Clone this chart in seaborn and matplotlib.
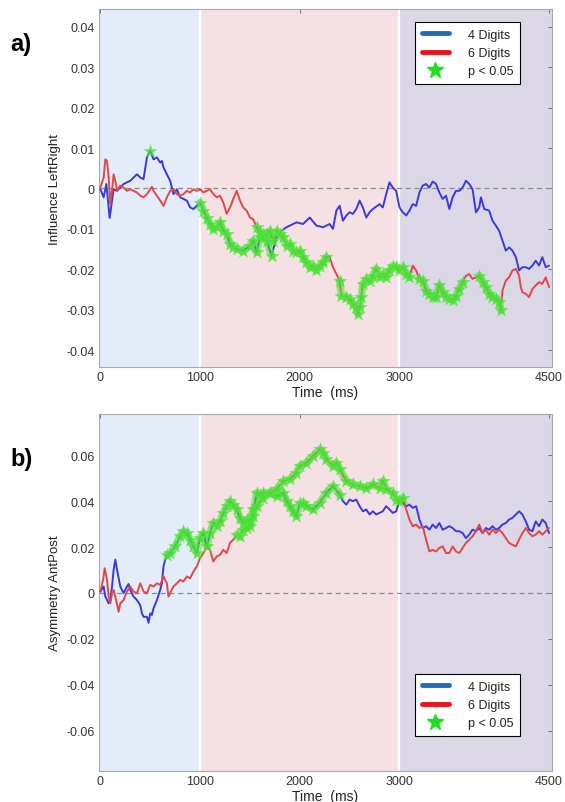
import numpy as np
import pandas as pd
import matplotlib
matplotlib.use("Agg")
import matplotlib.pyplot as plt
import seaborn as sns
from matplotlib.lines import Line2D

# ---------------- data ----------------
a_blue_t = [0, 33, 60, 93, 133, 167, 233, 300, 367, 400, 433, 467, 500, 533, 567, 600, 617, 633, 667, 700,
            733, 767, 800, 833, 867, 900, 933, 967, 1000, 1033, 1067, 1100, 1133, 1167, 1200, 1233, 1267, 1300,
            1333, 1367, 1433, 1500, 1533, 1567, 1600, 1633, 1667, 1717, 1767, 1817, 1867, 1900, 1967, 2033,
            2100, 2167, 2233, 2300, 2333, 2367, 2400, 2433, 2467, 2500, 2533, 2567, 2600, 2633, 2667, 2700,
            2733, 2800, 2833, 2867, 2900, 2933, 2967, 3000, 3033, 3067, 3100, 3133, 3167, 3200, 3233, 3267,
            3300, 3333, 3367, 3400, 3433, 3467, 3500, 3533, 3567, 3600, 3633, 3667, 3700, 3733, 3767, 3800,
            3817, 3850, 3900, 3933, 3967, 4000, 4033, 4067, 4100, 4133, 4167, 4200, 4233, 4267, 4300, 4333,
            4367, 4400, 4433, 4467, 4500]
a_blue_v = [-0.0002, -0.0022, 0.0011, -0.0073, -0.0002, -0.0006, 0.0011, 0.0019, 0.0035, 0.0027, 0.0023,
            0.0077, 0.0093, 0.0072, 0.0077, 0.0064, 0.0068, 0.0052, 0.0035, 0.0019, -0.0014, -0.0002, -0.0022,
            -0.0026, -0.0030, -0.0047, -0.0051, -0.0043, -0.0035, -0.0055, -0.0072, -0.0088, -0.0100, -0.0096,
            -0.0084, -0.0105, -0.0113, -0.0137, -0.0146, -0.0150, -0.0154, -0.0142, -0.0129, -0.0158, -0.0121,
            -0.0113, -0.0129, -0.0166, -0.0121, -0.0105, -0.0096, -0.0092, -0.0084, -0.0088, -0.0072, -0.0092,
            -0.0096, -0.0088, -0.0100, -0.0055, -0.0043, -0.0080, -0.0067, -0.0059, -0.0063, -0.0051, -0.0030,
            -0.0047, -0.0072, -0.0059, -0.0051, -0.0039, -0.0047, -0.0014, 0.0015, 0.0002, -0.0006, -0.0047,
            -0.0059, -0.0067, -0.0055, -0.0039, -0.0043, -0.0010, 0.0007, 0.0011, 0.0002, 0.0017, 0.0011,
            -0.0010, -0.0026, -0.0018, -0.0051, -0.0022, -0.0006, -0.0006, 0.0002, 0.0019, 0.0011, -0.0002,
            -0.0059, -0.0047, -0.0022, -0.0051, -0.0055, -0.0080, -0.0092, -0.0105, -0.0129, -0.0154, -0.0146,
            -0.0154, -0.0170, -0.0203, -0.0195, -0.0195, -0.0199, -0.0191, -0.0179, -0.0191, -0.0170, -0.0195,
            -0.0191]

a_red_t = [0, 33, 50, 67, 83, 100, 117, 133, 150, 167, 200, 233, 267, 300, 367, 400, 433, 467, 517, 533, 567,
           600, 633, 667, 700, 733, 767, 800, 833, 867, 900, 933, 967, 1000, 1033, 1067, 1100, 1133, 1167, 1200,
           1233, 1267, 1300, 1333, 1367, 1400, 1433, 1467, 1500, 1533, 1567, 1600, 1633, 1667, 1700, 1733,
           1767, 1800, 1833, 1867, 1900, 1933, 1967, 2000, 2033, 2067, 2100, 2133, 2167, 2200, 2233, 2267,
           2300, 2333, 2367, 2400, 2417, 2467, 2500, 2533, 2567, 2583, 2600, 2617, 2633, 2667, 2700, 2733,
           2767, 2800, 2833, 2867, 2900, 2933, 2967, 3000, 3033, 3067, 3100, 3133, 3167, 3200, 3233, 3267,
           3300, 3333, 3367, 3400, 3433, 3467, 3500, 3533, 3567, 3600, 3633, 3667, 3700, 3733, 3767, 3800,
           3833, 3867, 3900, 3933, 3967, 4000, 4017, 4033, 4067, 4100, 4133, 4167, 4200, 4217, 4233, 4267,
           4300, 4333, 4367, 4400, 4433, 4467, 4500]
a_red_v = [0.0002, 0.0027, 0.0072, 0.0068, 0.0027, -0.0039, -0.0006, 0.0035, 0.0019, -0.0006, 0.0007, 0.0002,
           -0.0006, -0.0002, -0.0010, -0.0018, -0.0022, -0.0014, 0.0004, -0.0006, -0.0018, -0.0030, -0.0043,
           -0.0022, -0.0006, -0.0002, -0.0014, -0.0018, -0.0014, -0.0006, -0.0010, -0.0002, -0.0006, -0.0002,
           -0.0010, -0.0006, -0.0002, -0.0014, -0.0022, -0.0018, -0.0035, -0.0063, -0.0047, -0.0026, -0.0006,
           -0.0030, -0.0047, -0.0055, -0.0072, -0.0076, -0.0096, -0.0109, -0.0121, -0.0113, -0.0105, -0.0129,
           -0.0105, -0.0113, -0.0121, -0.0142, -0.0137, -0.0154, -0.0158, -0.0154, -0.0170, -0.0183, -0.0195,
           -0.0191, -0.0203, -0.0191, -0.0183, -0.0170, -0.0170, -0.0195, -0.0212, -0.0228, -0.0265, -0.0269,
           -0.0273, -0.0286, -0.0294, -0.0310, -0.0294, -0.0269, -0.0236, -0.0224, -0.0228, -0.0216, -0.0199,
           -0.0220, -0.0212, -0.0220, -0.0203, -0.0191, -0.0195, -0.0203, -0.0195, -0.0212, -0.0220, -0.0191,
           -0.0203, -0.0224, -0.0228, -0.0253, -0.0261, -0.0269, -0.0269, -0.0240, -0.0257, -0.0269, -0.0273,
           -0.0277, -0.0265, -0.0249, -0.0232, -0.0216, -0.0212, -0.0224, -0.0220, -0.0216, -0.0232, -0.0244,
           -0.0261, -0.0269, -0.0273, -0.0281, -0.0302, -0.0253, -0.0228, -0.0220, -0.0203, -0.0199, -0.0216,
           -0.0244, -0.0257, -0.0261, -0.0269, -0.0249, -0.0240, -0.0232, -0.0236, -0.0220, -0.0244]

b_blue_t = [0, 33, 50, 83, 100, 117, 133, 150, 167, 200, 233, 267, 283, 300, 333, 367, 400, 417, 433, 467, 483,
            500, 517, 533, 567, 600, 617, 633, 650, 667, 700, 750, 800, 833, 867, 900, 933, 967, 1000, 1033,
            1067, 1100, 1133, 1167, 1200, 1233, 1267, 1300, 1333, 1367, 1400, 1433, 1467, 1500, 1533, 1567,
            1600, 1633, 1700, 1767, 1833, 1867, 1900, 1933, 1967, 2000, 2033, 2067, 2133, 2200, 2267, 2333,
            2400, 2433, 2467, 2500, 2533, 2567, 2600, 2633, 2667, 2700, 2733, 2767, 2800, 2833, 2867, 2900,
            2933, 2967, 3000, 3033, 3067, 3100, 3133, 3167, 3200, 3233, 3267, 3300, 3333, 3367, 3400, 3433,
            3467, 3500, 3533, 3567, 3600, 3633, 3667, 3700, 3733, 3767, 3800, 3833, 3867, 3900, 3933, 3967,
            4000, 4033, 4067, 4100, 4133, 4167, 4200, 4233, 4267, 4300, 4333, 4367, 4400, 4433, 4467, 4500]
b_blue_v = [0.0006, 0.0028, -0.0016, -0.0045, -0.0031, 0.0028, 0.0101, 0.0145, 0.0101, 0.0028, -0.0001,
            0.0028, 0.0039, 0.0013, -0.0016, -0.0031, -0.0053, -0.0089, -0.0104, -0.0104, -0.0130, -0.0089,
            -0.0096, -0.0067, -0.0031, 0.0013, 0.0042, 0.0115, 0.0145, 0.0166, 0.0174, 0.0203, 0.0247, 0.0269,
            0.0261, 0.0232, 0.0203, 0.0174, 0.0239, 0.0261, 0.0203, 0.0261, 0.0305, 0.0291, 0.0312, 0.0349,
            0.0378, 0.0400, 0.0385, 0.0364, 0.0327, 0.0305, 0.0320, 0.0291, 0.0334, 0.0437, 0.0429, 0.0437,
            0.0437, 0.0422, 0.0437, 0.0400, 0.0378, 0.0356, 0.0334, 0.0390, 0.0393, 0.0378, 0.0364, 0.0393,
            0.0437, 0.0466, 0.0429, 0.0400, 0.0385, 0.0407, 0.0400, 0.0407, 0.0378, 0.0356, 0.0364, 0.0342,
            0.0356, 0.0342, 0.0349, 0.0356, 0.0378, 0.0364, 0.0349, 0.0356, 0.0400, 0.0393, 0.0378, 0.0385,
            0.0371, 0.0378, 0.0320, 0.0283, 0.0291, 0.0276, 0.0298, 0.0283, 0.0305, 0.0276, 0.0283, 0.0291,
            0.0283, 0.0269, 0.0269, 0.0261, 0.0239, 0.0254, 0.0276, 0.0269, 0.0283, 0.0261, 0.0283, 0.0276,
            0.0291, 0.0276, 0.0283, 0.0298, 0.0305, 0.0320, 0.0327, 0.0342, 0.0356, 0.0342, 0.0312, 0.0276,
            0.0269, 0.0312, 0.0291, 0.0320, 0.0305, 0.0261]

b_red_t = [0, 27, 43, 67, 83, 100, 117, 133, 150, 183, 200, 233, 267, 300, 333, 367, 400, 433, 467, 500, 533,
           567, 600, 633, 667, 683, 700, 733, 767, 800, 833, 867, 900, 933, 967, 1000, 1033, 1067, 1100, 1133,
           1167, 1200, 1233, 1267, 1300, 1333, 1367, 1400, 1433, 1467, 1500, 1533, 1567, 1633, 1700, 1767,
           1833, 1900, 1967, 2000, 2067, 2133, 2200, 2233, 2267, 2333, 2367, 2400, 2467, 2533, 2600, 2667,
           2733, 2800, 2833, 2867, 2933, 2967, 3000, 3033, 3067, 3100, 3133, 3167, 3200, 3233, 3267, 3300,
           3333, 3367, 3400, 3433, 3467, 3500, 3533, 3567, 3600, 3633, 3667, 3700, 3733, 3767, 3800, 3833,
           3867, 3900, 3933, 3967, 4000, 4033, 4067, 4100, 4133, 4167, 4200, 4233, 4267, 4300, 4333, 4367,
           4400, 4433, 4467, 4500]
b_red_v = [0.0006, 0.0057, 0.0108, 0.0057, -0.0016, -0.0045, -0.0001, 0.0013, -0.0016, -0.0082, -0.0045,
           -0.0031, 0.0006, 0.0028, 0.0006, -0.0001, 0.0042, 0.0006, -0.0001, 0.0035, 0.0028, 0.0042, 0.0035,
           0.0072, 0.0042, -0.0016, -0.0001, 0.0028, 0.0042, 0.0057, 0.0050, 0.0072, 0.0064, 0.0093, 0.0115,
           0.0152, 0.0174, 0.0203, 0.0188, 0.0137, 0.0159, 0.0166, 0.0188, 0.0174, 0.0218, 0.0232, 0.0254,
           0.0247, 0.0276, 0.0283, 0.0320, 0.0364, 0.0378, 0.0415, 0.0437, 0.0451, 0.0488, 0.0495, 0.0524,
           0.0553, 0.0568, 0.0597, 0.0626, 0.0612, 0.0583, 0.0553, 0.0568, 0.0539, 0.0488, 0.0473, 0.0466,
           0.0458, 0.0473, 0.0458, 0.0488, 0.0451, 0.0437, 0.0407, 0.0400, 0.0415, 0.0364, 0.0320, 0.0291,
           0.0298, 0.0283, 0.0291, 0.0232, 0.0181, 0.0188, 0.0181, 0.0196, 0.0203, 0.0174, 0.0174, 0.0203,
           0.0181, 0.0174, 0.0196, 0.0218, 0.0232, 0.0247, 0.0269, 0.0298, 0.0261, 0.0276, 0.0254, 0.0276,
           0.0261, 0.0276, 0.0261, 0.0239, 0.0218, 0.0210, 0.0203, 0.0232, 0.0261, 0.0283, 0.0261, 0.0247,
           0.0254, 0.0269, 0.0254, 0.0269, 0.0283]

# significance intervals (ms) where p < 0.05 stars are drawn on each curve
a_sig_blue = [(470, 530), (1000, 1760)]
a_sig_red = [(1550, 2290), (2400, 2990), (3000, 3130), (3170, 3660), (3800, 4030)]
b_sig_blue = [(660, 2430)]
b_sig_red = [(1350, 3040)]

xtick_vals = [0, 1000, 2000, 3000, 4500]
xtick_labels = ["0", "1000", "2000", "3000", "4500"]
a_ytick_vals = [-0.04, -0.03, -0.02, -0.01, 0, 0.01, 0.02, 0.03, 0.04]
a_ytick_labels = ["-0.04", "-0.03", "-0.02", "-0.01", "0", "0.01", "0.02", "0.03", "0.04"]
b_ytick_vals = [-0.06, -0.04, -0.02, 0, 0.02, 0.04, 0.06]
b_ytick_labels = ["-0.06", "-0.04", "-0.02", "0", "0.02", "0.04", "0.06"]
legend_labels = ["4 Digits", "6 Digits", "p < 0.05"]
phase_edges = [-15, 1000, 3000, 4530]

# ---------------- style ----------------
sns.set_theme(style="white")
plt.rcParams["font.family"] = ["Liberation Sans", "DejaVu Sans"]

BLUE = "#3a3ad8"
RED = "#e04848"
GREEN = "#45e030"
PHASE_COLORS = ["#e3ecf8", "#f5e1e3", "#dcd7e7"]

fig = plt.figure(figsize=(5.65, 8.03), dpi=100)
ax_a = fig.add_axes([0.175, 0.5417, 0.802, 0.4458])
ax_b = fig.add_axes([0.175, 0.0386, 0.802, 0.4446])


def sig_segments(t, v, intervals):
    t = np.asarray(t)
    v = np.asarray(v)
    segs = []
    for lo, hi in intervals:
        m = (t >= lo) & (t <= hi)
        if m.sum():
            segs.append(pd.DataFrame({"t": t[m], "v": v[m]}))
    return segs


def draw_panel(ax, bt, bv, rt, rv, sig_b, sig_r, ylim, yticks, ylabels, ylabel, letter, letter_y, leg_y):
    for i in range(3):
        ax.axvspan(phase_edges[i], phase_edges[i + 1], color=PHASE_COLORS[i], lw=0, zorder=0)
    for x in phase_edges[1:3]:
        ax.axvline(x, color="white", lw=1.6, zorder=1)
    ax.axhline(0, color="#8a8a8a", lw=0.9, ls=(0, (4, 3)), zorder=1)

    dfb = pd.DataFrame({"t": bt, "v": bv})
    dfr = pd.DataFrame({"t": rt, "v": rv})
    sns.lineplot(data=dfb, x="t", y="v", ax=ax, color=BLUE, lw=1.4, estimator=None, sort=False, zorder=3)
    sns.lineplot(data=dfr, x="t", y="v", ax=ax, color=RED, lw=1.4, estimator=None, sort=False, zorder=3)

    segs = sig_segments(bt, bv, sig_b) + sig_segments(rt, rv, sig_r)
    for df_s in segs:
        sns.lineplot(data=df_s, x="t", y="v", ax=ax, color=GREEN, lw=5.5, alpha=0.55,
                     estimator=None, sort=False, zorder=4, solid_capstyle="round")
        sns.scatterplot(data=df_s, x="t", y="v", ax=ax, marker="*", s=95, color=GREEN,
                        edgecolor="#5fe84a", linewidth=0.4, alpha=0.75, zorder=5, legend=False)

    ax.set_xlim(phase_edges[0], phase_edges[-1])
    ax.set_ylim(*ylim)
    ax.set_xticks(xtick_vals)
    ax.set_xticklabels(xtick_labels)
    ax.set_yticks(yticks)
    ax.set_yticklabels(ylabels)
    ax.tick_params(direction="in", length=3, width=0.7, color="#777777", labelsize=9,
                   labelcolor="#333333", top=True, right=True, pad=3)
    for s in ax.spines.values():
        s.set_color("#a8a8a8")
        s.set_linewidth(0.8)
    ax.set_ylabel(ylabel, fontsize=9.5, color="#222222", labelpad=4)
    ax.set_xlabel("Time  (ms)", fontsize=10, color="#222222", labelpad=1)
    fig.text(0.019, letter_y, letter, fontsize=17, fontweight="bold",
             ha="left", va="center", color="black")

    handles = [Line2D([], [], color="#1f6db8", lw=3.5),
               Line2D([], [], color="#e8141c", lw=3.5),
               Line2D([], [], color="#22dd22", marker="*", ls="none", markersize=12)]
    leg = ax.legend(handles, legend_labels, loc="upper left", bbox_to_anchor=(0.697, leg_y),
                    fontsize=9, frameon=True, fancybox=False, edgecolor="black",
                    framealpha=1.0, handlelength=2.2, handletextpad=1.5, labelspacing=0.5,
                    borderpad=0.55, borderaxespad=0)
    leg.get_frame().set_linewidth(0.8)
    for txt in leg.get_texts():
        txt.set_color("#222222")


draw_panel(ax_a, a_blue_t, a_blue_v, a_red_t, a_red_v, a_sig_blue, a_sig_red,
           (-0.0442, 0.0444), a_ytick_vals, a_ytick_labels, "Influence LeftRight", "a)", 1 - 45 / 803, 0.964)
draw_panel(ax_b, b_blue_t, b_blue_v, b_red_t, b_red_v, b_sig_blue, b_sig_red,
           (-0.0776, 0.078), b_ytick_vals, b_ytick_labels, "Asymmetry AntPost", "b)", 1 - 460 / 803, 0.272)

fig.savefig("out.png", dpi=100)
